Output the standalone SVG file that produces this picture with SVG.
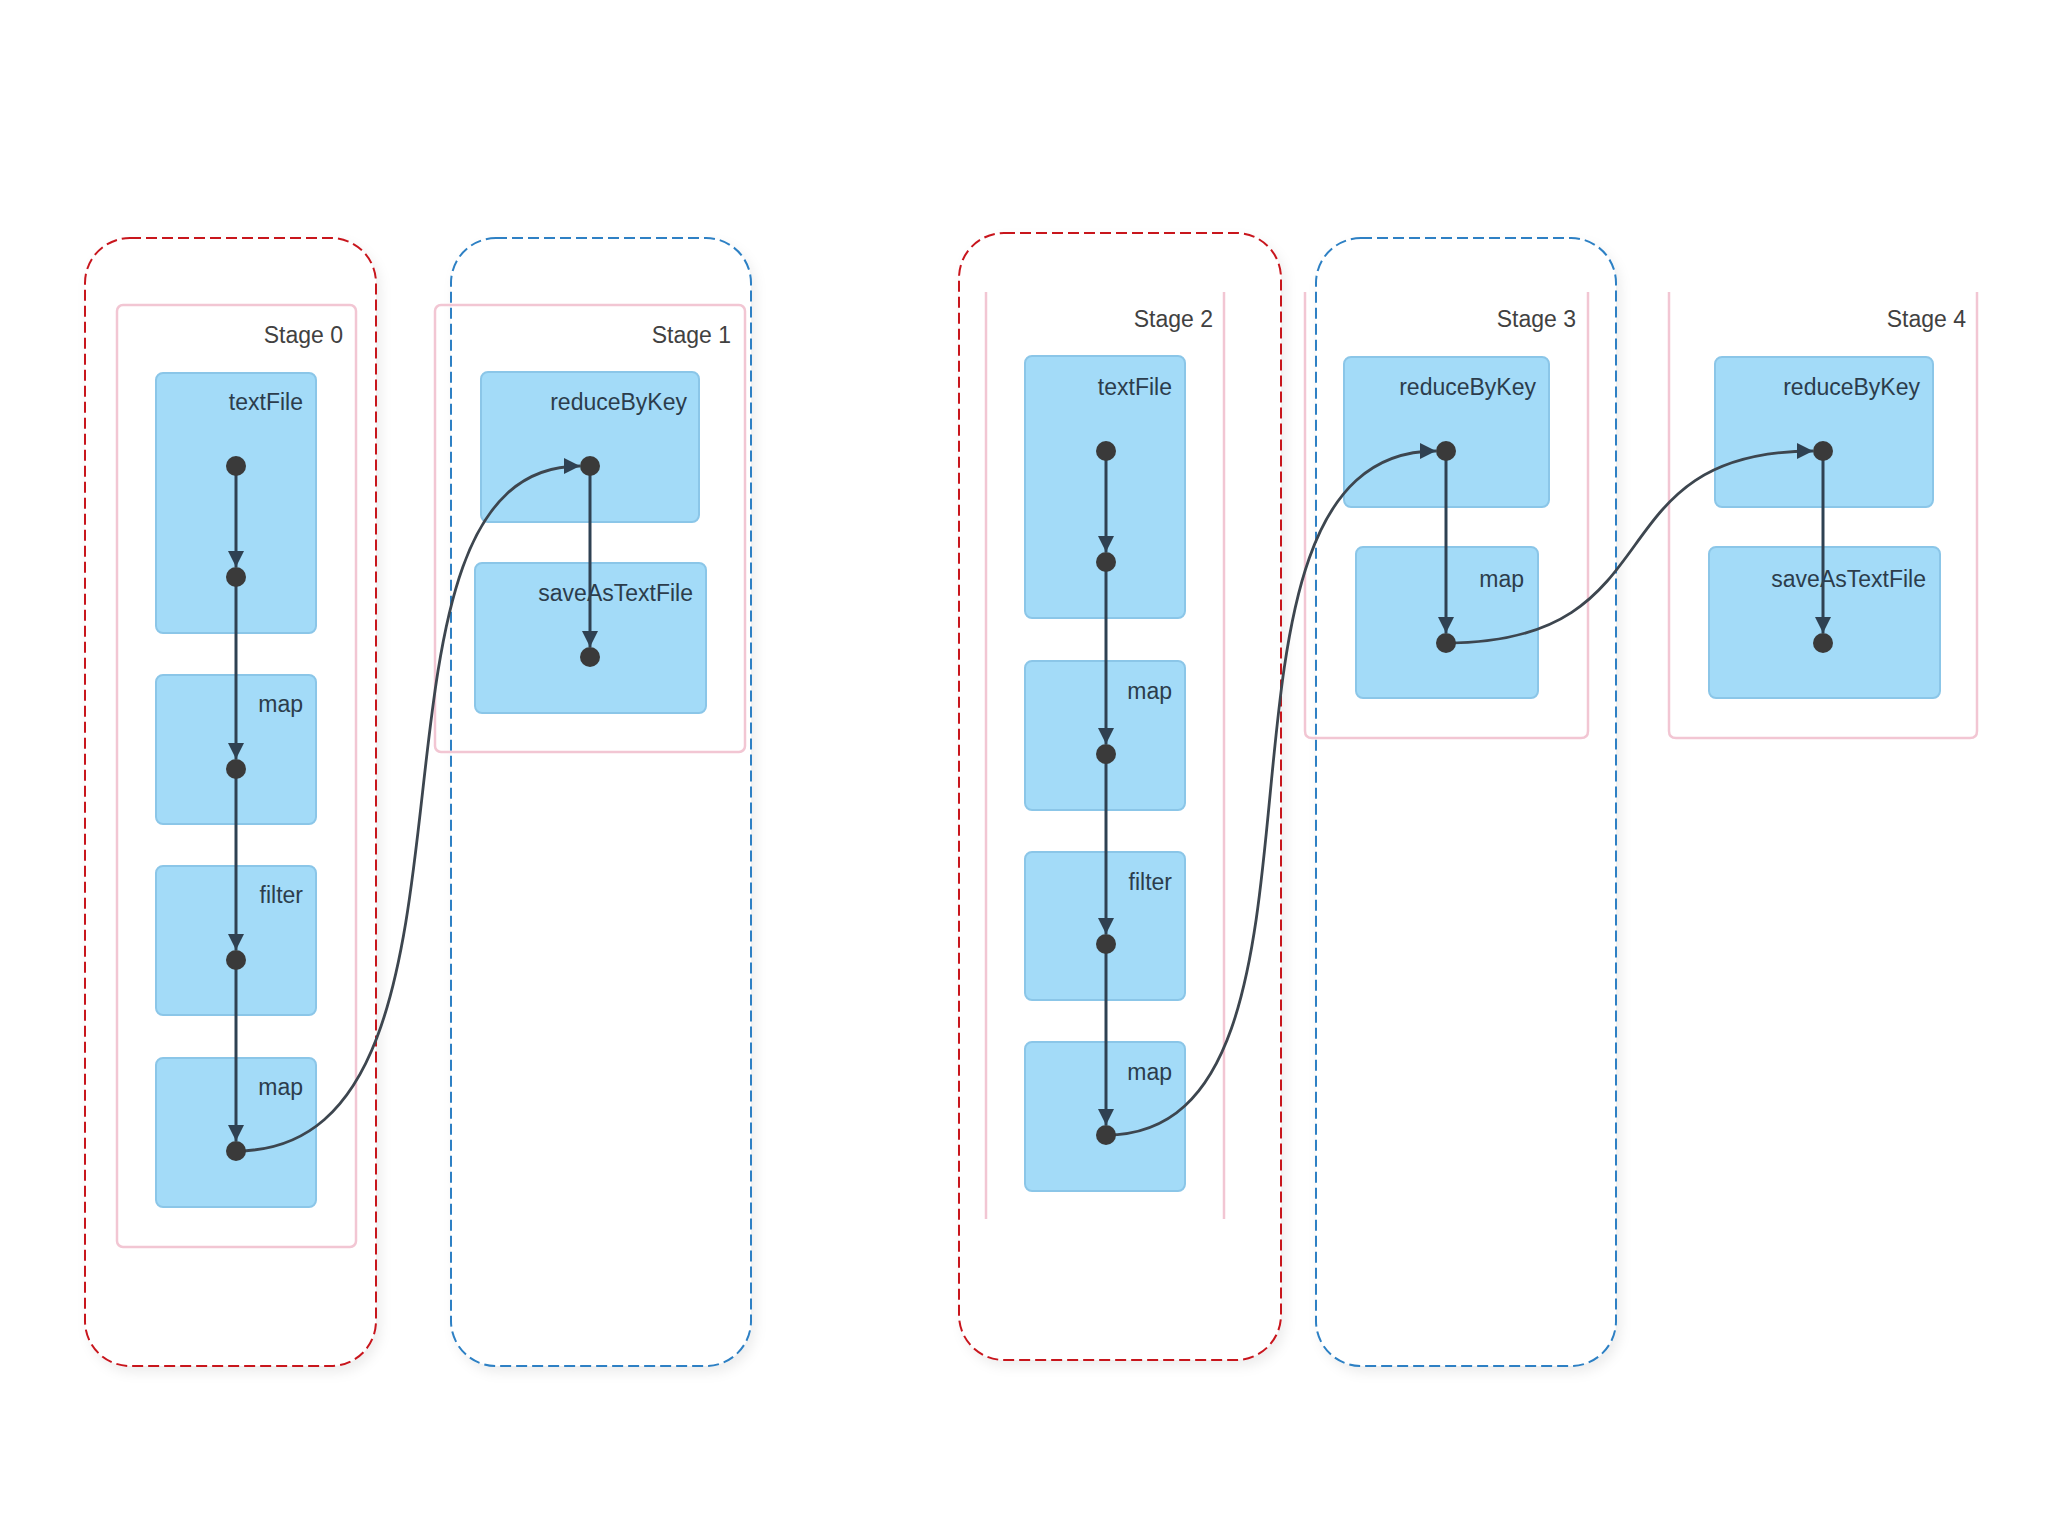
<svg xmlns="http://www.w3.org/2000/svg" width="2048" height="1536" viewBox="0 0 2048 1536">
<defs>
<style>
.grp-red{fill:#fff;stroke:#c8161f;stroke-width:2;stroke-dasharray:11 5}
.grp-blue{fill:#fff;stroke:#2d80c4;stroke-width:2;stroke-dasharray:11 5}
.stage{fill:none;stroke:#f2c6d3;stroke-width:2.5}
.stage-label{font-family:"Liberation Sans",Arial,sans-serif;font-size:23px;fill:#414141;text-anchor:end}
.node rect{fill:#a3dbf8;stroke:#8bc6e8;stroke-width:2}
.node text{font-family:"Liberation Sans",Arial,sans-serif;font-size:23px;fill:#2c3d4c;text-anchor:end}
.dot{fill:#3a3a3a}
.edge{fill:none;stroke:#2f4152;stroke-width:3}
.curve{fill:none;stroke:#3d464f;stroke-width:2.8}
</style>
<marker id="arrow" markerUnits="userSpaceOnUse" viewBox="0 0 16 16" refX="16" refY="8" markerWidth="16" markerHeight="16" orient="auto">
<path d="M0,0 L16,8 L0,16 z" fill="#2f4152"/>
</marker>
<filter id="shadow" x="-10%" y="-10%" width="120%" height="120%">
<feDropShadow dx="4" dy="6" stdDeviation="6" flood-color="#000" flood-opacity="0.07"/>
</filter>
</defs>
<rect width="2048" height="1536" fill="#fff"/>

<g id="groups">
<rect id="group-0" class="grp-red" x="85" y="238" width="291" height="1128" rx="45" filter="url(#shadow)"/>
<rect id="group-1" class="grp-blue" x="451" y="238" width="300" height="1128" rx="45" filter="url(#shadow)"/>
<rect id="group-2" class="grp-red" x="959" y="233" width="322" height="1127" rx="45" filter="url(#shadow)"/>
<rect id="group-3" class="grp-blue" x="1316" y="238" width="300" height="1128" rx="45" filter="url(#shadow)"/>
</g>

<g id="stage-0">
<rect class="stage" x="117" y="305" width="239" height="942" rx="6"/>
<text class="stage-label" x="343" y="343">Stage 0</text>
</g>
<g id="stage-1">
<rect class="stage" x="435" y="305" width="310" height="447" rx="6"/>
<text class="stage-label" x="731" y="343">Stage 1</text>
</g>
<g id="stage-2">
<path class="stage" d="M986,292 V1219 M1224,292 V1219"/>
<text class="stage-label" x="1213" y="327">Stage 2</text>
</g>
<g id="stage-3">
<path class="stage" d="M1305,292 V731 Q1305,738 1312,738 H1581 Q1588,738 1588,731 V292"/>
<text class="stage-label" x="1576" y="327">Stage 3</text>
</g>
<g id="stage-4">
<path class="stage" d="M1669,292 V731 Q1669,738 1676,738 H1970 Q1977,738 1977,731 V292"/>
<text class="stage-label" x="1966" y="327">Stage 4</text>
</g>

<g id="s0-textFile" class="node"><rect x="156" y="373" width="160" height="260" rx="7"/><text x="303" y="410">textFile</text></g>
<g id="s0-map1" class="node"><rect x="156" y="675" width="160" height="149" rx="7"/><text x="303" y="712">map</text></g>
<g id="s0-filter" class="node"><rect x="156" y="866" width="160" height="149" rx="7"/><text x="303" y="903">filter</text></g>
<g id="s0-map2" class="node"><rect x="156" y="1058" width="160" height="149" rx="7"/><text x="303" y="1095">map</text></g>

<g id="s1-reduceByKey" class="node"><rect x="481" y="372" width="218" height="150" rx="7"/><text x="687" y="410">reduceByKey</text></g>
<g id="s1-saveAsTextFile" class="node"><rect x="475" y="563" width="231" height="150" rx="7"/><text x="693" y="601">saveAsTextFile</text></g>

<g id="s2-textFile" class="node"><rect x="1025" y="356" width="160" height="262" rx="7"/><text x="1172" y="395">textFile</text></g>
<g id="s2-map1" class="node"><rect x="1025" y="661" width="160" height="149" rx="7"/><text x="1172" y="699">map</text></g>
<g id="s2-filter" class="node"><rect x="1025" y="852" width="160" height="148" rx="7"/><text x="1172" y="890">filter</text></g>
<g id="s2-map2" class="node"><rect x="1025" y="1042" width="160" height="149" rx="7"/><text x="1172" y="1080">map</text></g>

<g id="s3-reduceByKey" class="node"><rect x="1344" y="357" width="205" height="150" rx="7"/><text x="1536" y="395">reduceByKey</text></g>
<g id="s3-map" class="node"><rect x="1356" y="547" width="182" height="151" rx="7"/><text x="1524" y="587">map</text></g>

<g id="s4-reduceByKey" class="node"><rect x="1715" y="357" width="218" height="150" rx="7"/><text x="1920" y="395">reduceByKey</text></g>
<g id="s4-saveAsTextFile" class="node"><rect x="1709" y="547" width="231" height="151" rx="7"/><text x="1926" y="587">saveAsTextFile</text></g>

<g id="connectors">
<path class="edge" d="M236,466 V567" marker-end="url(#arrow)"/>
<path class="edge" d="M236,577 V759" marker-end="url(#arrow)"/>
<path class="edge" d="M236,769 V950" marker-end="url(#arrow)"/>
<path class="edge" d="M236,960 V1141" marker-end="url(#arrow)"/>
<path class="edge" d="M590,466 V647" marker-end="url(#arrow)"/>
<path class="curve" d="M236,1151 C520,1151 330,466 580,466" marker-end="url(#arrow)"/>
<path class="edge" d="M1106,451 V552" marker-end="url(#arrow)"/>
<path class="edge" d="M1106,562 V744" marker-end="url(#arrow)"/>
<path class="edge" d="M1106,754 V934" marker-end="url(#arrow)"/>
<path class="edge" d="M1106,944 V1125" marker-end="url(#arrow)"/>
<path class="curve" d="M1106,1135 C1370,1135 1170,451 1436,451" marker-end="url(#arrow)"/>
<path class="edge" d="M1446,451 V633" marker-end="url(#arrow)"/>
<path class="curve" d="M1446,643 C1680,643 1590,451 1813,451" marker-end="url(#arrow)"/>
<path class="edge" d="M1823,451 V633" marker-end="url(#arrow)"/>
</g>

<g id="dots">
<circle class="dot" cx="236" cy="466" r="10"/>
<circle class="dot" cx="236" cy="577" r="10"/>
<circle class="dot" cx="236" cy="769" r="10"/>
<circle class="dot" cx="236" cy="960" r="10"/>
<circle class="dot" cx="236" cy="1151" r="10"/>
<circle class="dot" cx="590" cy="466" r="10"/>
<circle class="dot" cx="590" cy="657" r="10"/>
<circle class="dot" cx="1106" cy="451" r="10"/>
<circle class="dot" cx="1106" cy="562" r="10"/>
<circle class="dot" cx="1106" cy="754" r="10"/>
<circle class="dot" cx="1106" cy="944" r="10"/>
<circle class="dot" cx="1106" cy="1135" r="10"/>
<circle class="dot" cx="1446" cy="451" r="10"/>
<circle class="dot" cx="1446" cy="643" r="10"/>
<circle class="dot" cx="1823" cy="451" r="10"/>
<circle class="dot" cx="1823" cy="643" r="10"/>
</g>
</svg>
